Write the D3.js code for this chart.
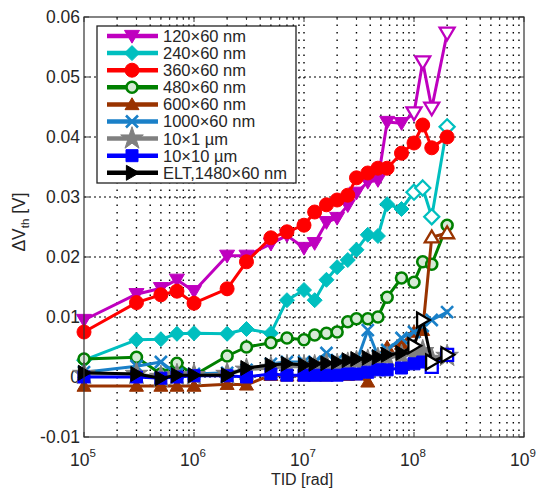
<!DOCTYPE html>
<html><head><meta charset="utf-8">
<script src="https://cdn.jsdelivr.net/npm/d3@7"></script>
<style>
html,body{margin:0;padding:0;background:#fff;}
svg{display:block;font-family:"Liberation Sans",Arial,sans-serif;}
</style></head>
<body><svg id="c" width="536" height="489"></svg>
<script>
// ---------- data ----------
const doses = [1e5,3e5,5e5,7e5,1e6,2e6,3e6,5e6,7e6,1e7,1.25e7,1.6e7,2e7,2.5e7,3e7,3.8e7,4.7e7,5.7e7,7.7e7,1e8,1.2e8,1.45e8,2e8];
const labels = ["120\u00d760 nm","240\u00d760 nm","360\u00d760 nm","480\u00d760 nm","600\u00d760 nm","1000\u00d760 nm","10\u00d71 \u00b5m","10\u00d710 \u00b5m","ELT,1480\u00d760 nm"];
const v120  = [.0095,.0138,.0148,.0162,.0143,.0202,.0202,.0222,.0236,.0215,.0223,.0258,.0265,.0286,.0307,.0325,.0328,.0425,.0423,.0440,.0525,.0448,.0573];
const v240  = [.0028,.0062,.0063,.0072,.0073,.0072,.0080,.0073,.0128,.0145,.0128,.0162,.0183,.0195,.0212,.0237,.0235,.0288,.0280,.0308,.0315,.0267,.0417];
const v360  = [.0075,.0124,.0137,.0143,.0123,.0147,.0192,.0232,.0242,.0253,.0275,.0287,.0295,.0303,.0332,.0340,.0348,.0348,.0373,.0390,.0420,.0382,.0400];
const v480  = [.0030,.0033,.0005,.0023,.0003,.0035,.0050,.0057,.0065,.0062,.0070,.0073,.0075,.0092,.0097,.0097,.0100,.0133,.0165,.0158,.0192,.0188,.0253];
const v600  = [-.0015,-.0015,-.0015,-.0015,-.0015,-.0012,-.0013,.0003,.0002,.0002,.0002,.0002,.0003,.0003,.0004,-.0008,.0020,.0050,.0055,.0075,.0078,.0233,.0240];
const v1000 = [.0008,.0018,.0025,.0005,.0005,.0007,.0012,.0022,.0025,.0025,.0025,.0040,.0028,.0028,.0025,.0078,.0035,.0045,.0065,.0075,.0085,.0095,.0108];
const v10x1 = [.0005,.0005,.0000,.0003,.0003,.0005,.0012,.0015,.0017,.0017,.0018,.0020,.0020,.0022,.0025,.0027,.0030,.0032,.0035,.0040,.0043,.0030,.0035];
const v10x10= [.0000,.0000,-.0002,.0000,.0002,.0002,.0000,.0005,.0003,.0003,.0003,.0003,.0003,.0005,.0005,.0008,.0012,.0012,.0015,.0022,.0025,.0017,.0037];
const vELT  = [.0007,.0005,-.0002,.0003,.0003,.0003,.0015,.0020,.0022,.0020,.0022,.0023,.0025,.0028,.0030,.0032,.0033,.0037,.0040,.0052,.0095,.0025,.0037];
const yTicks = [-0.01,0,0.01,0.02,0.03,0.04,0.05,0.06];
const yTickLabels = ["-0.01","0","0.01","0.02","0.03","0.04","0.05","0.06"];
const xExps = [5,6,7,8,9];

// ---------- styles ----------
const series = [
 {vals:v120,  color:"#bf00bf", m:"tridown", s:7.5, openFrom:1e8},
 {vals:v240,  color:"#00bfbf", m:"diamond", s:7.5, openFrom:1e8},
 {vals:v360,  color:"#ff0000", m:"circle",  s:7,   openFrom:Infinity},
 {vals:v480,  color:"#008000", m:"ring",    s:5.5, openFrom:Infinity},
 {vals:v600,  color:"#993300", m:"triup",   s:7,   openFrom:1.4e8},
 {vals:v1000, color:"#1a80c8", m:"cross",   s:6,   openFrom:Infinity},
 {vals:v10x1, color:"#808080", m:"star",    s:8.5, openFrom:Infinity},
 {vals:v10x10,color:"#0000ff", m:"square",  s:6,   openFrom:1.4e8},
 {vals:vELT,  color:"#000000", m:"triright",s:7.5, openFrom:1e8}
];
series.forEach((d,i)=>d.label=labels[i]);

const W=536,H=489, L=84,R=524,T=17,B=437;
const svg=d3.select("#c");
const x=d3.scaleLog().domain([1e5,1e9]).range([L,R]);
const y=d3.scaleLinear().domain([-0.01,0.06]).range([B,T]);
const txt="#262626";

// grid
const minor=[];
for(let e=5;e<9;e++) for(let k=1;k<10;k++) minor.push(k*Math.pow(10,e));
const g=svg.append("g");
g.selectAll("line.vg").data(minor.filter(d=>d>1e5)).join("line")
 .attr("x1",d=>x(d)).attr("x2",d=>x(d)).attr("y1",T).attr("y2",B)
 .attr("stroke","#000").attr("stroke-width",1.4).attr("stroke-dasharray","1.5,6");
g.selectAll("line.hg").data(yTicks.filter(d=>d>-0.01&&d<0.06)).join("line")
 .attr("x1",L).attr("x2",R).attr("y1",d=>y(d)).attr("y2",d=>y(d))
 .attr("stroke","#000").attr("stroke-width",1.1).attr("stroke-dasharray","2,3");

// ticks
const tk=svg.append("g").attr("stroke","#333").attr("stroke-width",1);
minor.concat([1e9]).forEach(d=>{
  const len = (Math.abs(Math.log10(d)-Math.round(Math.log10(d)))<1e-9)?5:3;
  tk.append("line").attr("x1",x(d)).attr("x2",x(d)).attr("y1",B).attr("y2",B-len);
  tk.append("line").attr("x1",x(d)).attr("x2",x(d)).attr("y1",T).attr("y2",T+len);
});
yTicks.forEach(d=>{
  tk.append("line").attr("x1",L).attr("x2",L+5).attr("y1",y(d)).attr("y2",y(d));
  tk.append("line").attr("x1",R).attr("x2",R-5).attr("y1",y(d)).attr("y2",y(d));
});

// tick labels
svg.append("g").selectAll("text").data(yTicks).join("text")
 .attr("x",L-4).attr("y",d=>y(d)).attr("dy","0.35em").attr("text-anchor","end")
 .attr("font-size",17.5).attr("fill",txt).text((d,i)=>yTickLabels[i]);
const xl=svg.append("g").selectAll("text").data(xExps).join("text")
 .attr("x",d=>x(Math.pow(10,d))-1).attr("y",466).attr("text-anchor","middle")
 .attr("font-size",17.5).attr("fill",txt);
xl.append("tspan").text("10");
xl.append("tspan").attr("font-size",11.5).attr("dy",-9).text(d=>d);

svg.append("text").attr("x",302).attr("y",485).attr("text-anchor","middle")
 .attr("font-size",16).attr("fill",txt).text("TID [rad]");
const yl=svg.append("text").attr("transform","translate(25,222) rotate(-90)")
 .attr("text-anchor","middle").attr("font-size",17.5).attr("fill",txt);
yl.append("tspan").text("\u0394V");
yl.append("tspan").attr("font-size",11.5).attr("dy",4).text("th");
yl.append("tspan").attr("dy",-4).text(" [V]");

// marker paths
function mpath(m,s){
  switch(m){
    case "tridown": return `M${-s},${-s*0.75}L${s},${-s*0.75}L0,${s*0.95}Z`;
    case "triup": return `M${-s},${s*0.75}L${s},${s*0.75}L0,${-s*0.95}Z`;
    case "triright": return `M${-s*0.75},${-s}L${-s*0.75},${s}L${s*0.95},0Z`;
    case "diamond": return `M0,${-s}L${s},0L0,${s}L${-s},0Z`;
    case "square": return `M${-s},${-s}H${s}V${s}H${-s}Z`;
    case "cross": return `M${-s},${-s}L${s},${s}M${-s},${s}L${s},${-s}`;
    case "star": return d3.symbol(d3.symbolStar, s*s*2.2)();
    default: return d3.symbol(d3.symbolCircle, Math.PI*s*s)();
  }
}
function drawMarker(sel,d,open){
  const p=sel.append("path").attr("d",mpath(d.m,d.s)).attr("stroke",d.color);
  if(d.m==="cross"){p.attr("fill","none").attr("stroke-width",2.6);}
  else if(d.m==="ring"){p.attr("fill","#d6ead6").attr("stroke-width",2.6);}
  else if(open){p.attr("fill","#fff").attr("stroke-width",2.3);}
  else {p.attr("fill",d.color).attr("stroke-width",1);}
  return p;
}

const plot=svg.append("g");
const line=d3.line().x(p=>x(p[0])).y(p=>y(p[1]));
series.forEach(s=>{
  const pts=doses.map((d,i)=>[d,s.vals[i]]);
  plot.append("path").datum(pts).attr("d",line).attr("fill","none")
   .attr("stroke",s.color).attr("stroke-width",3).attr("stroke-linejoin","round");
  pts.forEach(p=>{
    const gg=plot.append("g").attr("transform",`translate(${x(p[0])},${y(p[1])})`);
    drawMarker(gg,s,p[0]>=s.openFrom);
  });
});

// frame
svg.append("rect").attr("x",L).attr("y",T).attr("width",R-L).attr("height",B-T)
 .attr("fill","none").attr("stroke","#333").attr("stroke-width",1.2);

// legend
const lg=svg.append("g");
lg.append("rect").attr("x",97).attr("y",26).attr("width",199).attr("height",157)
 .attr("fill","#fff").attr("stroke","#222").attr("stroke-width",1.3);
const rowY=i=>36+i*17.1;
series.forEach((s,i)=>{
  const yy=rowY(i);
  lg.append("line").attr("x1",107).attr("x2",158).attr("y1",yy).attr("y2",yy)
   .attr("stroke",s.color).attr("stroke-width",4.5);
  const gg=lg.append("g").attr("transform",`translate(132,${yy})`);
  drawMarker(gg,s,false);
  lg.append("text").attr("x",163).attr("y",yy).attr("dy","0.36em")
   .attr("font-size",16.5).attr("fill",txt).text(s.label);
});
</script></body></html>
